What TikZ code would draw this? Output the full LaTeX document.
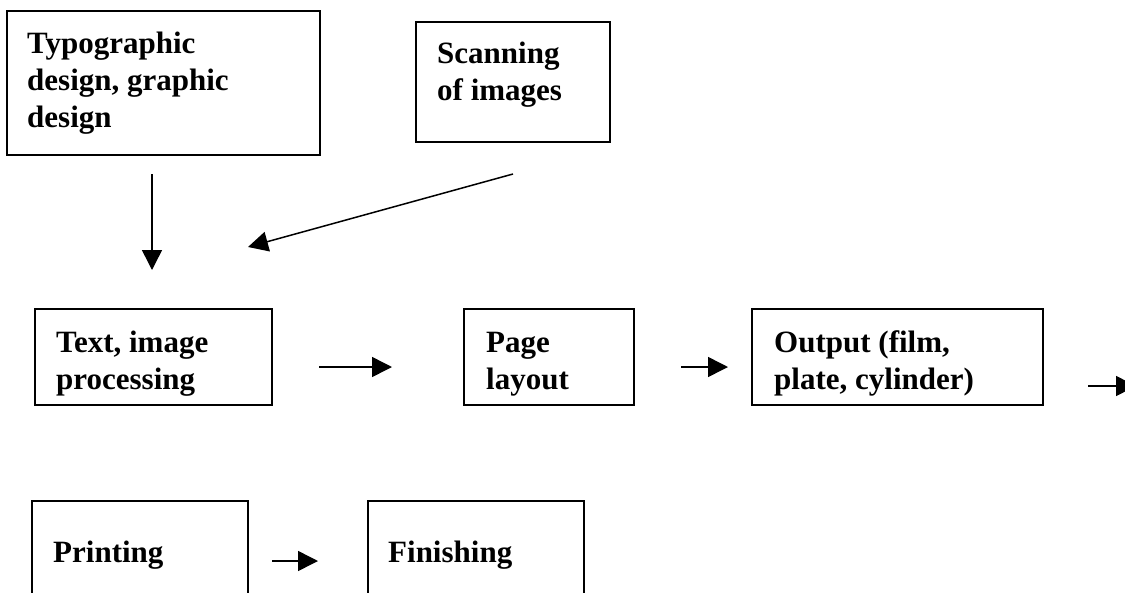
\documentclass[tikz,border=0pt]{standalone}
\usepackage{fontspec}
\setmainfont{Liberation Serif}
\usetikzlibrary{arrows.meta}
\newcommand\boxtxt[1]{\begin{tabular}[t]{@{}l@{}}#1\end{tabular}}
\begin{document}
\begin{tikzpicture}[x=1pt,y=-1pt,
  frame/.style={draw=black,line width=1.6pt,rectangle,inner sep=0pt,outer sep=0pt,anchor=north west},
  lbl/.style={anchor=base west,inner sep=0pt,font=\fontsize{31}{37}\selectfont\bfseries},
  arr/.style={line width=1.5pt,-{Triangle[length=20pt,width=20pt]}}]
\useasboundingbox (0,0) rectangle (1125,592);
\clip (0,0) rectangle (1125,592);
\fill[white] (0,0) rectangle (1125,592);
% boxes
\node[frame,minimum width=313pt,minimum height=144pt] (bA) at (7,11) {};
\node[frame,minimum width=194pt,minimum height=120pt] (bB) at (416,22) {};
\node[frame,minimum width=237pt,minimum height=96pt] (bC) at (35,309) {};
\node[frame,minimum width=170pt,minimum height=96pt] (bD) at (464,309) {};
\node[frame,minimum width=291pt,minimum height=96pt] (bE) at (752,309) {};
\node[frame,minimum width=216pt,minimum height=120pt] (bF) at (32,501) {};
\node[frame,minimum width=216pt,minimum height=120pt] (bG) at (368,501) {};
% texts
\node[lbl] (tA) at (27,53) {\boxtxt{Typographic\\design, graphic\\design}};
\node[lbl] (tB) at (437,63) {\boxtxt{Scanning\\of images}};
\node[lbl] (tC) at (56,352) {\boxtxt{Text, image\\processing}};
\node[lbl] (tD) at (486,352) {\boxtxt{Page\\layout}};
\node[lbl] (tE) at (774,352) {\boxtxt{Output (film,\\plate, cylinder)}};
\node[lbl] (tF) at (53,562) {Printing};
\node[lbl] (tG) at (388,562) {Finishing};
% arrow end points
\coordinate (a1s) at (152,174); \coordinate (a1e) at (152,270);
\coordinate (a2s) at (513,174); \coordinate (a2e) at (248,247);
\coordinate (a3s) at (319,367); \coordinate (a3e) at (392,367);
\coordinate (a4s) at (681,367); \coordinate (a4e) at (728,367);
\coordinate (a5s) at (1088,386); \coordinate (a5e) at (1136,386);
\coordinate (a6s) at (272,561); \coordinate (a6e) at (318,561);
\draw[arr] (a1s) -- (a1e);
\draw[arr] (a2s) -- (a2e);
\draw[arr] (a3s) -- (a3e);
\draw[arr] (a4s) -- (a4e);
\draw[arr] (a5s) -- (a5e);
\draw[arr] (a6s) -- (a6e);
\end{tikzpicture}
\end{document}
